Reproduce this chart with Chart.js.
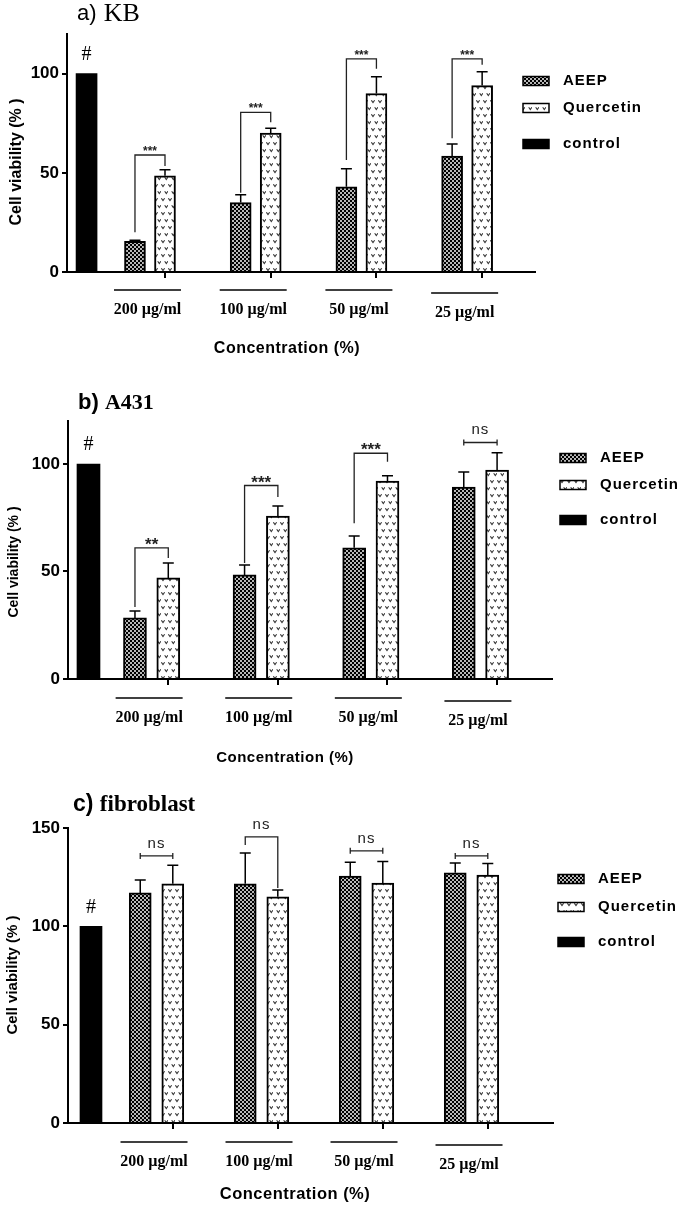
<!DOCTYPE html>
<html>
<head>
<meta charset="utf-8">
<script src="https://cdn.jsdelivr.net/npm/chart.js@4.4.0/dist/chart.umd.min.js"></script>
<style>
  html, body { margin: 0; padding: 0; background: #fff; }
  body { width: 685px; height: 1212px; position: relative; overflow: hidden; }
  canvas { position: absolute; left: 0; }
</style>
</head>
<body>
<canvas id="chartKB" width="685" height="380" style="top:0px"></canvas>
<canvas id="chartA431" width="685" height="395" style="top:380px"></canvas>
<canvas id="chartFib" width="685" height="437" style="top:775px"></canvas>
<script>
// categorias e séries
const doses = ['200 µg/ml', '100 µg/ml', '50 µg/ml', '25 µg/ml'];
const seriesNames = ['AEEP', 'Quercetin', 'control'];
const controlValue = 100;

// a) KB
const kbAeep = [15.5, 35, 43, 58.5];
const kbAeepErr = [0.5, 4, 9, 6];
const kbQuer = [48.5, 70, 90, 94];
const kbQuerErr = [3, 2.5, 8.5, 7];
const kbSig = ['***', '***', '***', '***'];
const kbBracketTop = [59, 80.5, 107.5, 107.5];
const kbLegLeft = [20, 40, 56.5, 67.5];
const kbLegRight = [53.5, 75.5, 102.5, 104.5];
const kbTicks = [0, 50, 100];

// b) A431
const a431Aeep = [28.4, 48.4, 61, 89.3];
const a431AeepErr = [3.2, 4.6, 5.5, 7];
const a431Quer = [47, 75.8, 92, 97.2];
const a431QuerErr = [7, 4.7, 2.5, 8];
const a431Sig = ['**', '***', '***', 'ns'];
const a431BracketTop = [61, 90, 105, 110];
const a431LegLeft = [33.5, 54, 72.5, null];
const a431LegRight = [56.3, 84.7, 101, null];
const a431Ticks = [0, 50, 100];

// c) fibroblast
const fibAeep = [117, 121.6, 125.6, 127.2];
const fibAeepErr = [6.5, 15.7, 7, 5];
const fibQuer = [121.6, 115, 122, 126];
const fibQuerErr = [9.5, 3.5, 11, 6];
const fibSig = ['ns', 'ns', 'ns', 'ns'];
const fibBracketTop = [135.8, 145.5, 138.4, 135.8];
const fibLegLeft = [null, 141.4, null, null];
const fibLegRight = [null, 119.5, null, null];
const fibTicks = [0, 50, 100, 150];

const SANS = 'Liberation Sans';
const SERIF = 'Liberation Serif';

// padrões de preenchimento (xadrez e "v")
const makeCheckFill = () => {
    const c = document.createElement('canvas');
    c.width = 4; c.height = 4;
    const g = c.getContext('2d');
    g.fillStyle = '#000';
    g.fillRect(0, 0, 4, 4);
    g.fillStyle = '#b8b8b8';
    g.fillRect(0, 0, 2, 2);
    g.fillRect(2, 2, 2, 2);
    return g.createPattern(c, 'repeat');
};

const makeVeeFill = () => {
    const c = document.createElement('canvas');
    c.width = 7; c.height = 14;
    const g = c.getContext('2d');
    g.fillStyle = '#fff';
    g.fillRect(0, 0, 7, 14);
    g.strokeStyle = '#333';
    g.lineWidth = 1.1;
    const vee = (x, y) => {
        g.beginPath();
        g.moveTo(x - 1.6, y - 1.2);
        g.lineTo(x, y + 1);
        g.lineTo(x + 1.6, y - 1.2);
        g.stroke();
    };
    vee(2, 3.5);
    vee(5.3, 10.5);
    return g.createPattern(c, 'repeat');
};

const checkFill = makeCheckFill();
const veeFill = makeVeeFill();

// desenha títulos, barras de erro, colchetes, legenda etc.
const decor = (p) => ({
    id: 'decor_' + p.key,
    afterDraw(chart) {
        const ctx = chart.ctx;
        const xs = chart.scales.x;
        const ys = chart.scales.y;
        const px = (v) => xs.getPixelForValue(v);
        const py = (v) => ys.getPixelForValue(v);
        const groups = doses.map((_, i) => i + 1);

        ctx.save();
        ctx.fillStyle = '#000';
        ctx.strokeStyle = '#000';

        // título
        ctx.textBaseline = 'middle';
        ctx.textAlign = 'left';
        ctx.font = p.titleFont[0];
        ctx.fillText(p.title[0], p.titleX, p.titleY);
        const w0 = ctx.measureText(p.title[0] + ' ').width;
        ctx.font = p.titleFont[1];
        ctx.fillText(p.title[1], p.titleX + w0 + p.titleGap, p.titleY);

        // título do eixo Y
        ctx.save();
        ctx.translate(p.yTitleX, p.yTitleY);
        ctx.rotate(-Math.PI / 2);
        ctx.textAlign = 'center';
        ctx.font = p.yTitleFont;
        ctx.fillText('Cell viability (% )', 0, 0);
        ctx.restore();

        // barras de erro (só para cima)
        ctx.lineWidth = 1.5;
        const errBar = (x, v, e) => {
            const y0 = py(v), y1 = py(v + e);
            ctx.beginPath();
            ctx.moveTo(x, y0);
            ctx.lineTo(x, y1);
            ctx.moveTo(x - 5.5, y1);
            ctx.lineTo(x + 5.5, y1);
            ctx.stroke();
        };
        groups.forEach((g, i) => {
            errBar(px(g - p.shift), p.aeep[i], p.aeepErr[i]);
            errBar(px(g + p.shift), p.quer[i], p.querErr[i]);
        });

        // colchetes de significância
        ctx.strokeStyle = '#222';
        ctx.lineWidth = 1.3;
        groups.forEach((g, i) => {
            const xl = px(g - p.shift), xr = px(g + p.shift);
            const yt = py(p.brTop[i]);
            ctx.beginPath();
            if (p.legL[i] !== null) {
                ctx.moveTo(xl, py(p.legL[i]));
                ctx.lineTo(xl, yt);
                ctx.lineTo(xr, yt);
                ctx.lineTo(xr, py(p.legR[i]));
            } else {
                ctx.moveTo(xl, yt); ctx.lineTo(xr, yt);
                ctx.moveTo(xl, yt - 3); ctx.lineTo(xl, yt + 3);
                ctx.moveTo(xr, yt - 3); ctx.lineTo(xr, yt + 3);
            }
            ctx.stroke();

            const label = p.sig[i];
            ctx.textAlign = 'center';
            ctx.textBaseline = 'alphabetic';
            ctx.fillStyle = '#222';
            if (label === 'ns') {
                ctx.font = p.nsFont;
                ctx.letterSpacing = '1px';
                ctx.fillText(label, (xl + xr) / 2, yt - p.nsLift);
            } else {
                ctx.font = p.starFont;
                ctx.letterSpacing = '0px';
                ctx.fillText(label, (xl + xr) / 2, yt + p.starDrop);
            }
            ctx.letterSpacing = '0px';
        });

        // "#" sobre o controle
        ctx.fillStyle = '#000';
        ctx.font = '20px ' + SERIF;
        ctx.textAlign = 'center';
        ctx.textBaseline = 'middle';
        ctx.fillText('#', px(p.ctrlX), py(controlValue) - 19);

        // linhas e rótulos das concentrações
        ctx.strokeStyle = '#000';
        ctx.lineWidth = 1.5;
        groups.forEach((g, i) => {
            const drop = i === groups.length - 1 ? 3 : 0;
            const c = px(g) - 2.5;
            const yl = p.plotBottom + p.ulGap + drop;
            ctx.beginPath();
            ctx.moveTo(c - 33.5, yl);
            ctx.lineTo(c + 33.5, yl);
            ctx.stroke();
            ctx.font = 'bold 16px ' + SERIF;
            ctx.fillText(doses[i], c, yl + 20);
        });

        ctx.font = p.xTitleFont;
        ctx.letterSpacing = '0.5px';
        ctx.fillText('Concentration (%)', p.xTitleX, p.xTitleY);

        // legenda
        ctx.textAlign = 'left';
        ctx.font = 'bold 15px ' + SANS;
        ctx.letterSpacing = '1px';
        chart.data.datasets.forEach((ds, i) => {
            const yy = p.legendRows[i];
            ctx.fillStyle = ds.backgroundColor;
            ctx.fillRect(p.legendX, yy - 4.5, 26, 9);
            ctx.strokeStyle = '#000';
            ctx.lineWidth = 1.5;
            ctx.strokeRect(p.legendX, yy - 4.5, 26, 9);
            ctx.fillStyle = '#000';
            ctx.fillText(ds.label, p.legendX + 40, yy);
        });
        ctx.letterSpacing = '0px';
        ctx.restore();
    }
});

const buildPanel = (canvasId, p) => {
    const groups = doses.map((_, i) => i + 1);
    const barBase = {
        grouped: false,
        barThickness: p.barW,
        borderColor: '#000',
        borderWidth: 2,
        borderSkipped: 'start'
    };
    const datasets = [
        { ...barBase, label: seriesNames[0], backgroundColor: checkFill,
          data: p.aeep.map((v, i) => ({ x: groups[i] - p.shift, y: v })) },
        { ...barBase, label: seriesNames[1], backgroundColor: veeFill,
          data: p.quer.map((v, i) => ({ x: groups[i] + p.shift, y: v })) },
        { ...barBase, label: seriesNames[2], backgroundColor: '#000', borderWidth: 0,
          data: [{ x: p.ctrlX, y: controlValue }] }
    ];

    const axisW = 50, axisH = 30;
    return new Chart(document.getElementById(canvasId), {
        type: 'bar',
        data: { datasets },
        options: {
            responsive: false,
            animation: false,
            events: [],
            layout: {
                padding: {
                    left: p.left - axisW,
                    top: p.plotTop,
                    right: 685 - p.right,
                    bottom: p.height - p.plotBottom - axisH
                }
            },
            plugins: { legend: { display: false }, tooltip: { enabled: false } },
            scales: {
                x: {
                    type: 'linear',
                    min: p.xMin,
                    max: p.xMax,
                    offset: false,
                    afterBuildTicks: (s) => { s.ticks = groups.map((g) => ({ value: g + p.shift })); },
                    afterFit: (s) => { s.height = axisH; },
                    ticks: { display: false },
                    grid: { offset: false, drawOnChartArea: false, drawTicks: true, tickLength: 6, color: '#000', lineWidth: 2 },
                    border: { display: true, color: '#000', width: 2 }
                },
                y: {
                    min: 0,
                    max: p.yMax,
                    afterBuildTicks: (s) => { s.ticks = p.yTicks.map((v) => ({ value: v })); },
                    afterFit: (s) => { s.width = axisW; },
                    ticks: { color: '#000', padding: 3, font: { family: SANS, size: 17, weight: 'bold' } },
                    grid: { drawOnChartArea: false, drawTicks: true, tickLength: 5, color: '#000', lineWidth: 2 },
                    border: { display: true, color: '#000', width: 2 }
                }
            }
        },
        plugins: [decor(p)]
    });
};

buildPanel('chartKB', {
    key: 'kb', aeep: kbAeep, aeepErr: kbAeepErr, quer: kbQuer, querErr: kbQuerErr,
    sig: kbSig, brTop: kbBracketTop, legL: kbLegLeft, legR: kbLegRight, yTicks: kbTicks,
    height: 380, left: 67, right: 535, plotTop: 34, plotBottom: 272, yMax: 120,
    xMin: 0.215, xMax: 4.642, ctrlX: 0.4, shift: 0.142, barW: 21,
    title: ['a)', 'KB'], titleFont: ['22px ' + SANS, '26px ' + SERIF], titleX: 77, titleY: 14, titleGap: 1,
    yTitleX: 17, yTitleY: 162, yTitleFont: 'bold 16px ' + SANS,
    starFont: 'bold 12px ' + SANS, starDrop: 0, nsFont: '15px ' + SANS, nsLift: 8,
    ulGap: 18, xTitleFont: 'bold 16px ' + SANS, xTitleX: 287, xTitleY: 349,
    legendX: 523, legendRows: [81, 108, 144]
});

buildPanel('chartA431', {
    key: 'a431', aeep: a431Aeep, aeepErr: a431AeepErr, quer: a431Quer, querErr: a431QuerErr,
    sig: a431Sig, brTop: a431BracketTop, legL: a431LegLeft, legR: a431LegRight, yTicks: a431Ticks,
    height: 395, left: 68, right: 552, plotTop: 41, plotBottom: 299, yMax: 120,
    xMin: 0.237, xMax: 4.653, ctrlX: 0.424, shift: 0.152, barW: 23,
    title: ['b)', 'A431'], titleFont: ['bold 22px ' + SANS, 'bold 22px ' + SERIF], titleX: 78, titleY: 23, titleGap: 0,
    yTitleX: 14, yTitleY: 182, yTitleFont: 'bold 14px ' + SANS,
    starFont: 'bold 17px ' + SANS, starDrop: 2, nsFont: '15px ' + SANS, nsLift: 9,
    ulGap: 19, xTitleFont: 'bold 15px ' + SANS, xTitleX: 285, xTitleY: 378,
    legendX: 560, legendRows: [78, 105, 140]
});

buildPanel('chartFib', {
    key: 'fib', aeep: fibAeep, aeepErr: fibAeepErr, quer: fibQuer, querErr: fibQuerErr,
    sig: fibSig, brTop: fibBracketTop, legL: fibLegLeft, legR: fibLegRight, yTicks: fibTicks,
    height: 437, left: 68, right: 553, plotTop: 53, plotBottom: 348, yMax: 150,
    xMin: 0.157, xMax: 4.776, ctrlX: 0.376, shift: 0.155, barW: 22,
    title: ['c)', 'fibroblast'], titleFont: ['bold 23px ' + SANS, 'bold 23px ' + SERIF], titleX: 73, titleY: 30, titleGap: 0,
    yTitleX: 13, yTitleY: 200, yTitleFont: 'bold 15px ' + SANS,
    starFont: 'bold 17px ' + SANS, starDrop: 2, nsFont: '15px ' + SANS, nsLift: 8,
    ulGap: 19, xTitleFont: 'bold 16.5px ' + SANS, xTitleX: 295, xTitleY: 419,
    legendX: 558, legendRows: [104, 132, 167]
});
</script>
</body>
</html>
